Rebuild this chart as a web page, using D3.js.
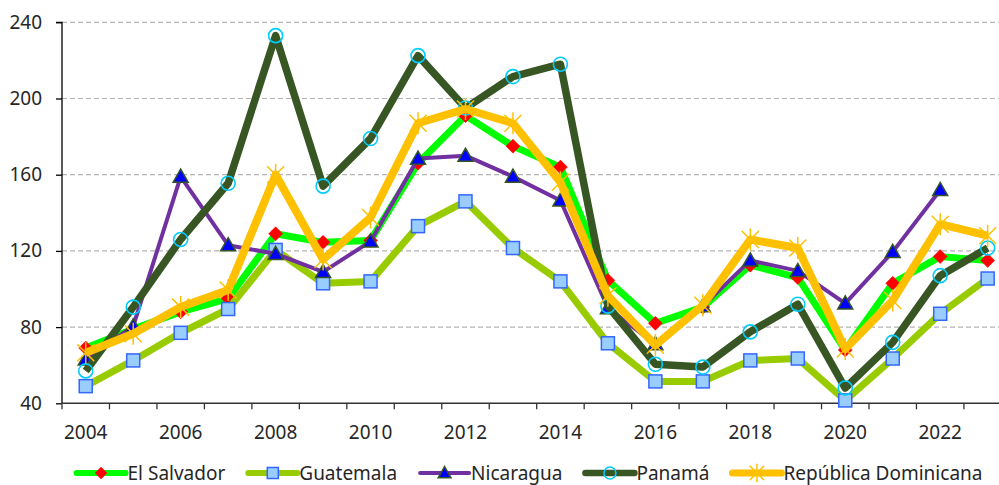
<!DOCTYPE html>
<html>
<head>
<meta charset="utf-8">
<script src="https://cdn.jsdelivr.net/npm/d3@7"></script>
<style>
  html, body { margin: 0; padding: 0; background: #fff; }
  svg { display: block; font-family: "Noto Sans", "Open Sans", sans-serif; }
</style>
</head>
<body>
<svg id="chart" width="999" height="485"></svg>
<script>
const years = d3.range(2004, 2024);
const tickYears = [2004, 2006, 2008, 2010, 2012, 2014, 2016, 2018, 2020, 2022];
const yTicks = [40, 80, 120, 160, 200, 240];

const elSalvador = [69, 79, 88, 95, 129, 124.5, 125.5, 166, 191, 175, 164, 104.5, 82, 90.5, 112.5, 106, 68, 103, 117, 115];
const guatemala  = [49, 62.5, 77, 89.5, 120.5, 103, 104, 133, 146, 121.5, 104, 71.5, 51.5, 51.5, 62.5, 63.5, 41.5, 63.5, 87, 105.5];
const nicaragua  = [63, 80.5, 159, 123, 118.5, 109, 125, 168.5, 170, 159, 146.5, 90, 71, 91, 115, 109.5, 92.5, 119.5, 152, null];
const panama     = [57, 90.5, 126, 155.5, 233, 154, 179, 222.5, 195, 211.5, 218, 91, 60.5, 59, 77.5, 92, 48, 72, 107, 121.5];
const repDom     = [66.5, 76.5, 90.5, 99.5, 160, 115.5, 137.5, 187, 194.5, 187, 156, 96.5, 70.5, 91.5, 126, 121.5, 68.5, 94, 134, 128];

const seriesNames = ["El Salvador", "Guatemala", "Nicaragua", "Panamá", "República Dominicana"];
const seriesValues = [elSalvador, guatemala, nicaragua, panama, repDom];

const styles = [
  { line: "#00FF00", width: 7, marker: "diamond", fill: "#FF0000", stroke: "#FF0000", sw: 0.5 },
  { line: "#99CC00", width: 7, marker: "square", fill: "#99CCFF", stroke: "#3366FF", sw: 1.5 },
  { line: "#7030A0", width: 4, marker: "triangle", fill: "#0000FF", stroke: "#375623", sw: 1.5 },
  { line: "#375623", width: 7.5, marker: "circle", fill: "none", stroke: "#00CCFF", sw: 1.6 },
  { line: "#FFC000", width: 8, marker: "star", fill: "none", stroke: "#FFC000", sw: 1.5 }
];

const svg = d3.select("#chart");
const plotLeft = 62, bandW = 47.47, plotTop = 22.3, plotBottom = 403.3;

const x = d3.scaleBand().domain(years).range([plotLeft, plotLeft + bandW * years.length]).padding(0);
const y = d3.scaleLinear().domain([40, 240]).range([plotBottom, plotTop]);
const cx = d => x(d) + x.bandwidth() / 2;

// gridlines
svg.append("g").selectAll("line")
  .data(yTicks.filter(t => t > 40))
  .join("line")
  .attr("x1", plotLeft).attr("x2", 999)
  .attr("y1", d => y(d)).attr("y2", d => y(d))
  .attr("stroke", "#b4b4b4").attr("stroke-width", 1.2)
  .attr("stroke-dasharray", "5,3");

// y axis
const yAxis = svg.append("g").attr("transform", `translate(${plotLeft},0)`)
  .call(d3.axisLeft(y).tickValues(yTicks).tickSize(6).tickPadding(14).tickFormat(d3.format("d")));
yAxis.select(".domain").attr("stroke", "#000").attr("stroke-width", 1.3).attr("d", `M-6,${plotTop}H0V${plotBottom}`);
yAxis.selectAll(".tick line").attr("stroke", "#000").attr("stroke-width", 1.3);
yAxis.selectAll("text").attr("font-size", 19).attr("fill", "#262626").attr("font-family", "Noto Sans");

// x axis
const xAxis = svg.append("g").attr("transform", `translate(0,${plotBottom})`)
  .call(d3.axisBottom(x).tickValues(tickYears).tickSize(0).tickPadding(22).tickFormat(d3.format("d")));
xAxis.select(".domain").attr("stroke", "#333").attr("stroke-width", 1.5).attr("d", `M${plotLeft},0H999`);
xAxis.selectAll("text").attr("font-size", 19).attr("fill", "#262626").attr("font-family", "Noto Sans");
svg.append("g").attr("transform", `translate(0,${plotBottom})`).selectAll("line")
  .data(years)
  .join("line")
  .attr("x1", d => x(d)).attr("x2", d => x(d))
  .attr("y1", 0).attr("y2", 6)
  .attr("stroke", "#333").attr("stroke-width", 1.3);

function drawMarker(g, type, st, px, py, scale) {
  const s = scale || 1;
  if (type === "diamond") {
    const r = 7 * s;
    g.append("path").attr("d", `M${px},${py - r}L${px + r},${py}L${px},${py + r}L${px - r},${py}Z`)
      .attr("fill", st.fill).attr("stroke", st.stroke).attr("stroke-width", st.sw);
  } else if (type === "square") {
    const h = 6.5 * s;
    g.append("rect").attr("x", px - h).attr("y", py - h).attr("width", 2 * h).attr("height", 2 * h)
      .attr("fill", st.fill).attr("stroke", st.stroke).attr("stroke-width", st.sw);
  } else if (type === "triangle") {
    const r = 7.5 * s;
    g.append("path").attr("d", `M${px},${py - r}L${px + r},${py + r * 0.75}L${px - r},${py + r * 0.75}Z`)
      .attr("fill", st.fill).attr("stroke", st.stroke).attr("stroke-width", st.sw);
  } else if (type === "circle") {
    g.append("circle").attr("cx", px).attr("cy", py).attr("r", 7 * s)
      .attr("fill", st.fill).attr("stroke", st.stroke).attr("stroke-width", st.sw);
  } else if (type === "star") {
    const r = 8.5 * s, v = 11 * s;
    g.append("path").attr("d", `M${px - r},${py - r}L${px + r},${py + r}M${px - r},${py + r}L${px + r},${py - r}M${px},${py - v}L${px},${py + v}`)
      .attr("fill", "none").attr("stroke", st.stroke).attr("stroke-width", st.sw);
  }
}

// series
seriesValues.forEach((vals, i) => {
  const st = styles[i];
  const data = years.map((yr, j) => ({ yr, v: vals[j] }));
  const g = svg.append("g");
  const line = d3.line().defined(d => d.v != null).x(d => cx(d.yr)).y(d => y(d.v));
  g.append("path").datum(data).attr("d", line)
    .attr("fill", "none").attr("stroke", st.line).attr("stroke-width", st.width)
    .attr("stroke-linejoin", "round").attr("stroke-linecap", "butt");
  data.filter(d => d.v != null).forEach(d => drawMarker(g, st.marker, st, cx(d.yr), y(d.v)));
});

// legend
const legend = svg.append("g");
const ly = 473;
let lx = 0;
seriesNames.forEach((name, i) => {
  const st = styles[i];
  const g = legend.append("g").attr("transform", `translate(${lx},0)`);
  g.append("line").attr("x1", 0).attr("x2", 49).attr("y1", ly).attr("y2", ly)
    .attr("stroke", st.line).attr("stroke-width", Math.max(st.width - 1, 4)).attr("stroke-linecap", "round");
  drawMarker(g, st.marker, st, 24.5, ly, 0.85);
  const t = g.append("text").attr("x", 51).attr("y", ly).attr("dy", "0.35em")
    .attr("font-size", 19).attr("fill", "#262626").text(name);
  const w = t.node().getComputedTextLength();
  lx += 51 + w + 23;
});
const totalW = lx - 23;
legend.attr("transform", `translate(${529.5 - totalW / 2},0)`);
</script>
</body>
</html>
